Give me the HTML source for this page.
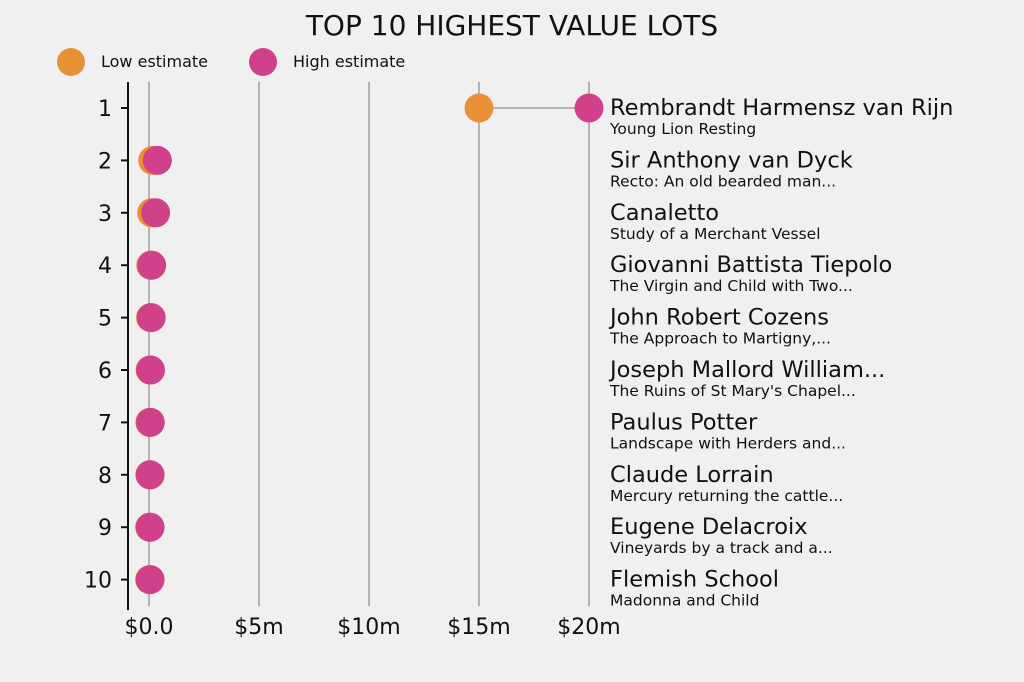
<!DOCTYPE html>
<html><head><meta charset="utf-8"><style>
body{margin:0;background:#f0f0f0;}
svg{display:block;font-family:"DejaVu Sans","Liberation Sans",sans-serif;}
</style></head><body>
<svg id="chart" width="1024" height="682">
<rect width="1024" height="682" fill="#f0f0f0"/>
<text x="512" y="35" text-anchor="middle" font-size="28" fill="#111">TOP 10 HIGHEST VALUE LOTS</text>
<g>
<circle cx="71" cy="62" r="14" fill="#e89035"/>
<text x="101" y="67" font-size="16" fill="#111">Low estimate</text>
<circle cx="263" cy="62" r="14" fill="#d1408a"/>
<text x="293" y="67" font-size="16" fill="#111">High estimate</text>
</g>
<g id="grid"></g><g id="marks"></g><g id="labels"></g>
</svg>
<script>
const ranks=[1,2,3,4,5,6,7,8,9,10];
const lowValues=[15,0.17,0.12,0.08,0.07,0.05,0.04,0.04,0.03,0.03];
const highValues=[20,0.38,0.3,0.12,0.1,0.07,0.06,0.05,0.05,0.05];
const artists=["Rembrandt Harmensz van Rijn","Sir Anthony van Dyck","Canaletto","Giovanni Battista Tiepolo","John Robert Cozens","Joseph Mallord William...","Paulus Potter","Claude Lorrain","Eugene Delacroix","Flemish School"];
const titles=["Young Lion Resting","Recto: An old bearded man...","Study of a Merchant Vessel","The Virgin and Child with Two...","The Approach to Martigny,...","The Ruins of St Mary's Chapel...","Landscape with Herders and...","Mercury returning the cattle...","Vineyards by a track and a...","Madonna and Child"];
const tickValues=[0,5,10,15,20];
const tickLabels=["$0.0","$5m","$10m","$15m","$20m"];
const NS="http://www.w3.org/2000/svg";
const x=v=>149+v*22;
const y=r=>108+(r-1)*52.4;
function mk(tag,attrs,parent,text){const e=document.createElementNS(NS,tag);for(const k in attrs)e.setAttribute(k,attrs[k]);if(text!==undefined)e.textContent=text;parent.appendChild(e);return e;}
const grid=document.getElementById('grid'),marks=document.getElementById('marks'),labels=document.getElementById('labels');
tickValues.forEach((v,i)=>{
 const l=mk('line',{x1:x(v),x2:x(v),y1:82,y2:606,stroke:'#b4b4b4','stroke-width':2},grid);
 
 
 const t=mk('text',{x:x(v),y:634,'text-anchor':'middle','font-size':22,fill:'#111'},grid,tickLabels[i]);
 
 
});
const ax=mk('line',{x1:128,x2:128,y1:82,y2:610,stroke:'#111','stroke-width':2},grid);


ranks.forEach((r,i)=>{
 const tk=mk('line',{x1:121,x2:128,y1:y(r),y2:y(r),stroke:'#111','stroke-width':2},grid);
 
 
 const tl=mk('text',{x:112,y:y(r)+8,'text-anchor':'end','font-size':22,fill:'#111'},grid,String(r));
 
 
 const c=mk('line',{x1:x(lowValues[i]),x2:x(highValues[i]),y1:y(r),y2:y(r),stroke:'#777','stroke-width':1},marks);
 
 
 const lo=mk('circle',{cx:x(lowValues[i]),cy:y(r),r:14.5,fill:'#e89035'},marks);
 
 
 const hi=mk('circle',{cx:x(highValues[i]),cy:y(r),r:14.5,fill:'#d1408a'},marks);
 
 
 const a=mk('text',{x:610,y:y(r)+7,'font-size':22.5,fill:'#111'},labels,artists[i]);
 
 
 const s=mk('text',{x:610,y:y(r)+26,'font-size':15.5,fill:'#111'},labels,titles[i]);
 
 
});
</script>
</body></html>
